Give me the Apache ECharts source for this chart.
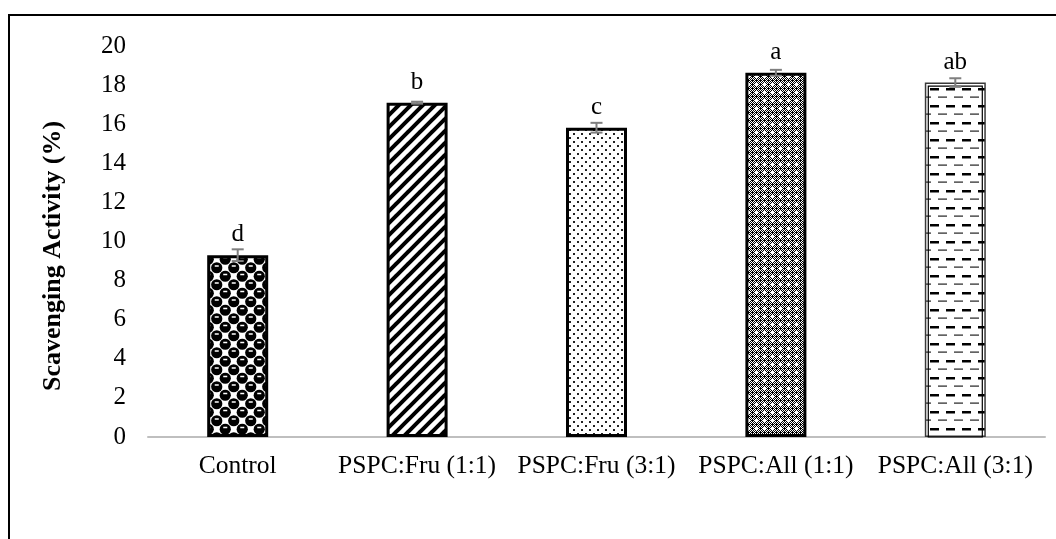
<!DOCTYPE html>
<html>
<head>
<meta charset="utf-8">
<script src="https://cdn.jsdelivr.net/npm/echarts@6/dist/echarts.min.js"></script>
<style>
  html, body { margin: 0; padding: 0; background: #fff; }
  #chart { width: 1056px; height: 539px; }
</style>
</head>
<body>
<div id="chart"></div>
<script>
// Treatments and their mean scavenging activity (%) with standard error
const categories = ['Control', 'PSPC:Fru (1:1)', 'PSPC:Fru (3:1)', 'PSPC:All (1:1)', 'PSPC:All (3:1)'];
const means = [9.3, 17.1, 15.82, 18.63, 18.13];
const errors = [0.3, 0.05, 0.25, 0.15, 0.22];
const letters = ['d', 'b', 'c', 'a', 'ab'];
const yTicks = [0, 2, 4, 6, 8, 10, 12, 14, 16, 18, 20];

const SERIF = '"Liberation Serif", "Times New Roman", serif';

function tile(w, h, draw) {
  const c = document.createElement('canvas');
  c.width = w; c.height = h;
  const g = c.getContext('2d');
  g.fillStyle = '#fff';
  g.fillRect(0, 0, w, h);
  draw(g, w, h);
  return { image: c, repeat: 'repeat' };
}

// Fill patterns, one per treatment
const patterns = [
  // black balls on a checkerboard
  tile(17, 17, (g) => {
    g.fillStyle = '#000';
    const pts = [[4.25, 4.25], [12.75, 12.75], [-4.25, -4.25], [21.25, 21.25], [21.25, 4.25], [4.25, 21.25], [-4.25, 12.75], [12.75, -4.25]];
    pts.forEach(([x, y]) => {
      g.beginPath(); g.arc(x, y, 5.6, 0, Math.PI * 2); g.fill();
    });
    g.fillStyle = '#fff';
    [[4.25, 4.25], [12.75, 12.75]].forEach(([x, y]) => {
      g.fillRect(x - 2, y - 2.5, 4, 1.5);
    });
  }),
  // wide diagonal stripes
  tile(12, 12, (g) => {
    g.strokeStyle = '#000';
    g.lineWidth = 4;
    g.lineCap = 'square';
    [-12, 0, 12].forEach((o) => {
      g.beginPath(); g.moveTo(o, 12); g.lineTo(o + 12, 0); g.stroke();
    });
  }),
  // sparse dots
  tile(8, 8, (g) => {
    g.fillStyle = '#222';
    g.fillRect(1, 1, 2, 2);
    g.fillRect(5, 5, 2, 2);
  }),
  // dense dark checker with light specks
  tile(8, 8, (g) => {
    g.fillStyle = '#000';
    g.fillRect(0, 0, 8, 8);
    g.fillStyle = '#fff';
    for (let y = 0; y < 8; y++) {
      for (let x = 0; x < 8; x++) {
        if ((x + y) % 2 === 0 && (x % 4 !== 0 || y % 4 !== 0)) g.fillRect(x, y, 1, 1);
      }
    }
    g.fillRect(3, 4, 3, 1);
    g.fillRect(4, 3, 1, 3);
  }),
  // horizontal dashes
  tile(16, 17, (g) => {
    g.fillStyle = '#000';
    g.fillRect(2, 3, 9, 2.5);
    g.fillStyle = '#222';
    g.fillRect(10, 11.5, 9, 1.2);
    g.fillRect(-6, 11.5, 9, 1.2);
  })
];

const chart = echarts.init(document.getElementById('chart'), null, { renderer: 'canvas' });

const barData = means.map((v, i) => ({
  value: v,
  itemStyle: {
    color: patterns[i],
    borderColor: i === 4 ? '#3a3a3a' : '#000',
    borderWidth: i === 4 ? 1.5 : 3
  }
}));

const errData = means.map((v, i) => [i, v, errors[i]]);

chart.setOption({
  animation: false,
  backgroundColor: '#fff',
  grid: { left: 148, right: 11, top: 46, bottom: 102, containLabel: false },
  graphic: [
    {
      type: 'rect',
      shape: { x: 9, y: 15, width: 1100, height: 600 },
      style: { fill: 'none', stroke: '#000', lineWidth: 2 },
      silent: true
    },
    {
      type: 'text',
      x: 53, y: 256,
      rotation: Math.PI / 2,
      style: {
        text: 'Scavenging Activity (%)',
        font: 'bold 26px ' + SERIF,
        fill: '#000',
        textAlign: 'center',
        textVerticalAlign: 'middle'
      },
      silent: true
    }
  ],
  xAxis: {
    type: 'category',
    data: categories,
    axisLine: { show: true, lineStyle: { color: '#bfbfbf', width: 2 } },
    axisTick: { show: false },
    axisLabel: { color: '#000', fontFamily: SERIF, fontSize: 25.5, margin: 16, interval: 0 }
  },
  yAxis: {
    type: 'value',
    min: yTicks[0],
    max: yTicks[yTicks.length - 1],
    interval: yTicks[1] - yTicks[0],
    axisLine: { show: false },
    axisTick: { show: false },
    splitLine: { show: false },
    axisLabel: { color: '#000', fontFamily: SERIF, fontSize: 25, margin: 22 }
  },
  series: [
    {
      type: 'bar',
      data: barData,
      barWidth: 61,
      label: {
        show: true,
        position: 'top',
        distance: 8,
        color: '#000',
        fontFamily: SERIF,
        fontSize: 25,
        formatter: (p) => letters[p.dataIndex]
      },
      z: 2
    },
    {
      type: 'custom',
      data: errData,
      z: 3,
      renderItem: (params, api) => {
        const i = api.value(0);
        const m = api.value(1);
        const e = api.value(2);
        const hi = api.coord([i, m + e]);
        const lo = api.coord([i, m - e]);
        const cap = 6;
        const style = { stroke: '#7f7f7f', lineWidth: 2 };
        const children = [
          { type: 'line', shape: { x1: hi[0], y1: hi[1], x2: lo[0], y2: lo[1] }, style },
          { type: 'line', shape: { x1: hi[0] - cap, y1: hi[1], x2: hi[0] + cap, y2: hi[1] }, style },
          { type: 'line', shape: { x1: lo[0] - cap, y1: lo[1], x2: lo[0] + cap, y2: lo[1] }, style }
        ];
        if (i === 4) {
          // inner line of the double outline on the last bar
          const top = api.coord([i, m]);
          const base = api.coord([i, 0]);
          const half = 61 / 2 - 3.5;
          children.unshift({
            type: 'rect',
            shape: { x: top[0] - half, y: top[1] + 3.5, width: half * 2, height: base[1] - top[1] - 3.5 },
            style: { fill: 'none', stroke: '#000', lineWidth: 1.2 }
          });
        }
        return { type: 'group', children };
      }
    }
  ]
});
</script>
</body>
</html>
